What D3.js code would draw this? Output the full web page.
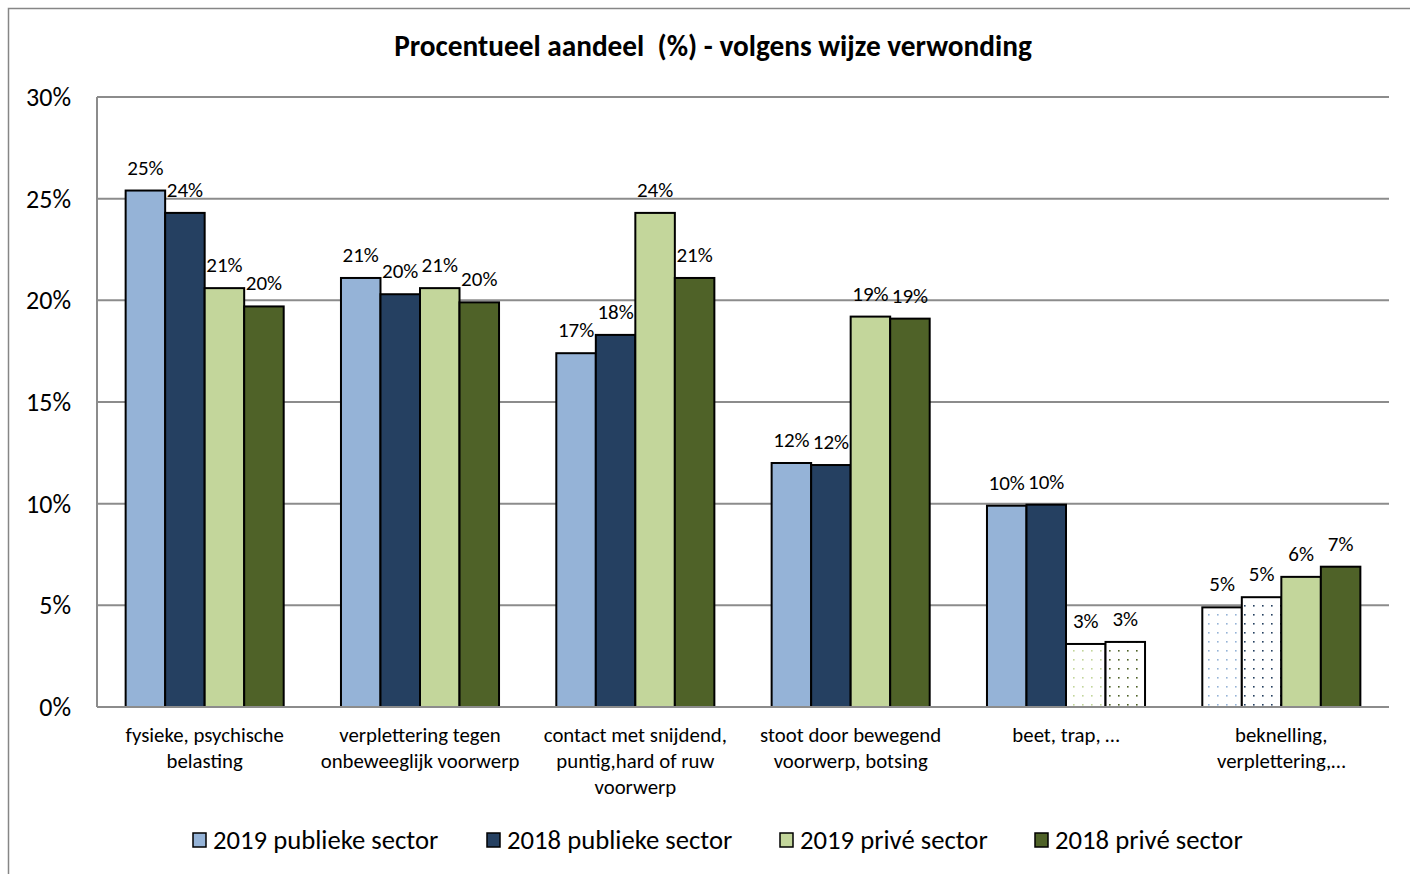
<!DOCTYPE html>
<html>
<head>
<meta charset="utf-8">
<script src="https://cdn.jsdelivr.net/npm/d3@7"></script>
<style>
  body { margin: 0; background: #fff; }
  svg text { font-family: Carlito, Lato, "Liberation Sans", sans-serif; fill: #000; }
</style>
</head>
<body>
<svg id="chart" width="1410" height="874"></svg>
<script>
var categories = [
  ['fysieke, psychische', 'belasting'],
  ['verplettering tegen', 'onbeweeglijk voorwerp'],
  ['contact met snijdend,', 'puntig,hard of ruw', 'voorwerp'],
  ['stoot door bewegend', 'voorwerp, botsing'],
  ['beet, trap, \u2026'],
  ['beknelling,', 'verplettering,\u2026']
];
var seriesNames = ['2019 publieke sector', '2018 publieke sector', '2019 privé sector', '2018 privé sector'];
var pub2019 = [25.4, 21.1, 17.4, 12.0, 9.9, 4.9];
var pub2018 = [24.3, 20.3, 18.3, 11.9, 9.95, 5.4];
var priv2019 = [20.6, 20.6, 24.3, 19.2, 3.1, 6.4];
var priv2018 = [19.7, 19.9, 21.1, 19.1, 3.2, 6.9];
var colors = ['#95b3d7', '#254061', '#c3d69b', '#4f6228'];
// bars that get a dotted fill instead of solid: [series, category]
var dotted = [[2, 4], [3, 4], [0, 5], [1, 5]];
var yTicks = [0, 5, 10, 15, 20, 25, 30];

var allSeries = [pub2019, pub2018, priv2019, priv2018];

var svg = d3.select('#chart');
var plotL = 97, plotR = 1389, plotT = 97, plotB = 707;

// outer frame (only left and top edge visible)
svg.append('path').attr('d', 'M8.5,874V8.5H1410').attr('fill', 'none')
  .attr('stroke', '#868686').attr('stroke-width', 1.5);

var defs = svg.append('defs');
colors.forEach(function(c, i) {
  var p = defs.append('pattern').attr('id', 'dots' + i).attr('patternUnits', 'userSpaceOnUse')
    .attr('width', 9).attr('height', 9);
  p.append('rect').attr('width', 9).attr('height', 9).attr('fill', '#fff');
  p.append('rect').attr('x', 2).attr('y', 2).attr('width', 1.6).attr('height', 1.6).attr('fill', c);
});

var x0 = d3.scaleBand().domain(d3.range(categories.length)).range([plotL, plotR]).paddingInner(0.266).paddingOuter(0.133);
var x1 = d3.scaleBand().domain(d3.range(4)).range([0, x0.bandwidth()]);
var y = d3.scaleLinear().domain([0, 30]).range([plotB, plotT]);

// gridlines
svg.append('g').selectAll('line').data(yTicks.filter(function(t) { return t > 0; })).enter().append('line')
  .attr('x1', plotL).attr('x2', plotR).attr('y1', function(d) { return y(d); }).attr('y2', function(d) { return y(d); })
  .attr('stroke', '#8c8c8c').attr('stroke-width', 2);

// y axis
svg.append('line').attr('x1', plotL).attr('x2', plotL).attr('y1', plotT).attr('y2', plotB)
  .attr('stroke', '#8c8c8c').attr('stroke-width', 2);
svg.append('g').selectAll('text').data(yTicks).enter().append('text')
  .attr('x', 71).attr('y', function(d) { return y(d); }).attr('dy', '0.35em')
  .attr('text-anchor', 'end').style('font-size', '26px')
  .text(function(d) { return d + '%'; });

// bars
var isDotted = function(s, c) {
  return dotted.some(function(p) { return p[0] === s && p[1] === c; });
};
var fmt = d3.format('.0f');
allSeries.forEach(function(vals, s) {
  var g = svg.append('g');
  g.selectAll('rect').data(vals).enter().append('rect')
    .attr('x', function(d, i) { return x0(i) + x1(s); })
    .attr('y', function(d) { return y(d); })
    .attr('width', x1.bandwidth())
    .attr('height', function(d) { return plotB - y(d); })
    .attr('fill', function(d, i) { return isDotted(s, i) ? 'url(#dots' + s + ')' : colors[s]; })
    .attr('stroke', '#000').attr('stroke-width', 2);
  g.selectAll('text').data(vals).enter().append('text')
    .attr('x', function(d, i) { return x0(i) + x1(s) + x1.bandwidth() / 2; })
    .attr('y', function(d) { return y(d) - 16; })
    .attr('text-anchor', 'middle').style('font-size', '21px')
    .text(function(d) { return fmt(d) + '%'; });
});

// x axis line
svg.append('line').attr('x1', plotL).attr('x2', plotR).attr('y1', plotB).attr('y2', plotB)
  .attr('stroke', '#8c8c8c').attr('stroke-width', 2);

// category labels
var cat = svg.append('g').selectAll('text').data(categories).enter().append('text')
  .attr('text-anchor', 'middle').style('font-size', '20.8px')
  .attr('transform', function(d, i) { return 'translate(' + (x0(i) + x0.bandwidth() / 2) + ',742)'; });
cat.selectAll('tspan').data(function(d) { return d; }).enter().append('tspan')
  .attr('x', 0).attr('y', function(d, j) { return j * 26; }).text(function(d) { return d; });

// title
svg.append('text').attr('x', 713).attr('y', 56).attr('text-anchor', 'middle')
  .style('font-size', '29.3px').style('font-weight', 'bold').style('white-space', 'pre')
  .text('Procentueel aandeel  (%) - volgens wijze verwonding');

// legend
var legX = [193, 487, 780, 1035];
var leg = svg.append('g').selectAll('g').data(seriesNames).enter().append('g')
  .attr('transform', function(d, i) { return 'translate(' + legX[i] + ',840)'; });
leg.append('rect').attr('x', 0).attr('y', -7).attr('width', 13).attr('height', 14)
  .attr('fill', function(d, i) { return colors[i]; }).attr('stroke', '#000').attr('stroke-width', 1.5);
leg.append('text').attr('x', 20).attr('dy', '0.35em').style('font-size', '26.7px').text(function(d) { return d; });
</script>
</body>
</html>
